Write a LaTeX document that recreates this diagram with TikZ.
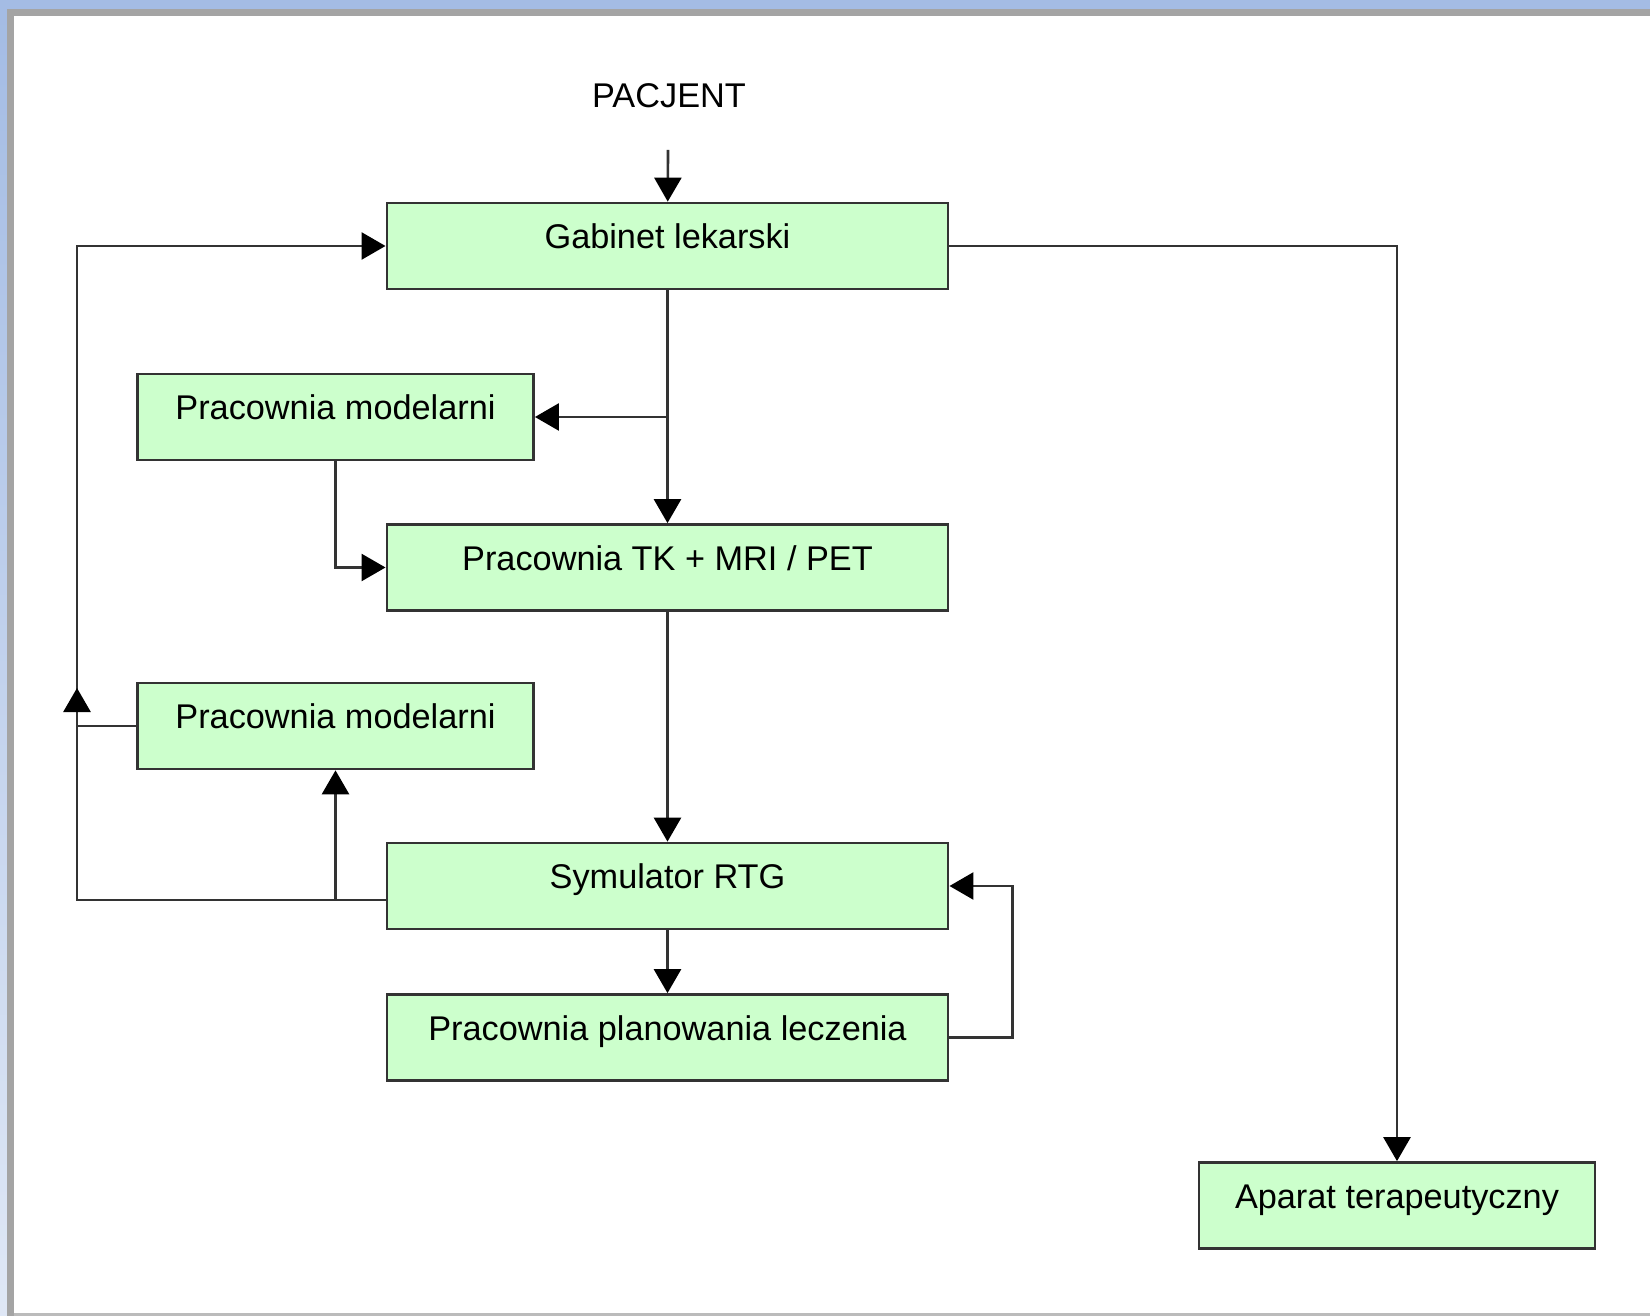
\documentclass[tikz,border=0pt]{standalone}
\usepackage{fontspec}
\setmainfont{Liberation Sans}
\usetikzlibrary{arrows.meta}
\definecolor{roomfill}{RGB}{204,255,204}
\definecolor{frameblue}{RGB}{164,188,228}
\definecolor{framegray}{RGB}{164,164,164}
\tikzset{
  room/.style={draw=black!80, line width=0.75pt, fill=roomfill, inner sep=0pt,
    text height=0.46cm, text depth=0.40cm, font=\fontsize{9.75}{12}\selectfont},
  path/.style={draw=black!80, line width=0.75pt},
  flow/.style={path, -{Triangle[length=2.4mm, width=2.7mm, color=black]}},
}
\begin{document}
\begin{tikzpicture}[x=0.01cm, y=-0.01cm]
        \useasboundingbox (0,0) rectangle (1650,1316);
        \fill[frameblue] (0,0) rectangle (1650,9);
        \fill[framegray] (0,9) rectangle (1650,16);
        \shade[top color=frameblue, bottom color=frameblue!35] (0,9) rectangle (7,1316);
        \fill[framegray] (7,9) rectangle (14,1316);
        \fill[framegray!75] (14,1313) rectangle (1650,1316);

        \node[anchor=base, font=\fontsize{9.75}{12}\selectfont] (pacjent) at (669,108) {PACJENT};
        \node[room, minimum width=5.61cm] (gabinet) at (667.5,246) {Gabinet lekarski};
        \node[room, minimum width=3.96cm] (modelarnia) at (335.5,417) {Pracownia modelarni};
        \node[room, minimum width=5.61cm] (tk) at (667.5,567.5) {Pracownia TK + MRI / PET};
        \node[room, minimum width=3.96cm] (modelarnia2) at (335.5,726) {Pracownia modelarni};
        \node[room, minimum width=5.61cm] (symulator) at (667.5,886) {Symulator RTG};
        \node[room, minimum width=5.61cm] (planowanie) at (667.5,1037.5) {Pracownia planowania leczenia};
        \node[room, minimum width=3.96cm] (aparat) at (1397,1205.5) {Aparat terapeutyczny};

        \coordinate (wejscie) at (668,150);
        \coordinate (lewo) at (77,900);

        \draw[flow] (wejscie) -- (gabinet);
        \draw[flow] (gabinet.east) -| (aparat.north);
        \draw[flow] (gabinet) -- (tk);
        \draw[flow] (gabinet.south |- modelarnia.east) -- (modelarnia.east);
        \draw[flow] (modelarnia.south) |- (tk.west);
        \draw[flow] (tk) -- (symulator);
        \draw[flow] (symulator) -- (planowanie);
        \draw[flow] (planowanie.east) -- ++(63,0) |- (symulator.east);
        \draw[flow] ([yshift=-0.14cm]symulator.west) -| (lewo |- gabinet.west) -- (gabinet.west);
        \draw[flow] (lewo |- modelarnia2.west) -- ++(0,-38);
        \draw[path] (modelarnia2.west) -- (modelarnia2.west -| lewo);
        \draw[flow] (modelarnia2.south |- lewo) -- (modelarnia2.south);
    \end{tikzpicture}
\end{document}
